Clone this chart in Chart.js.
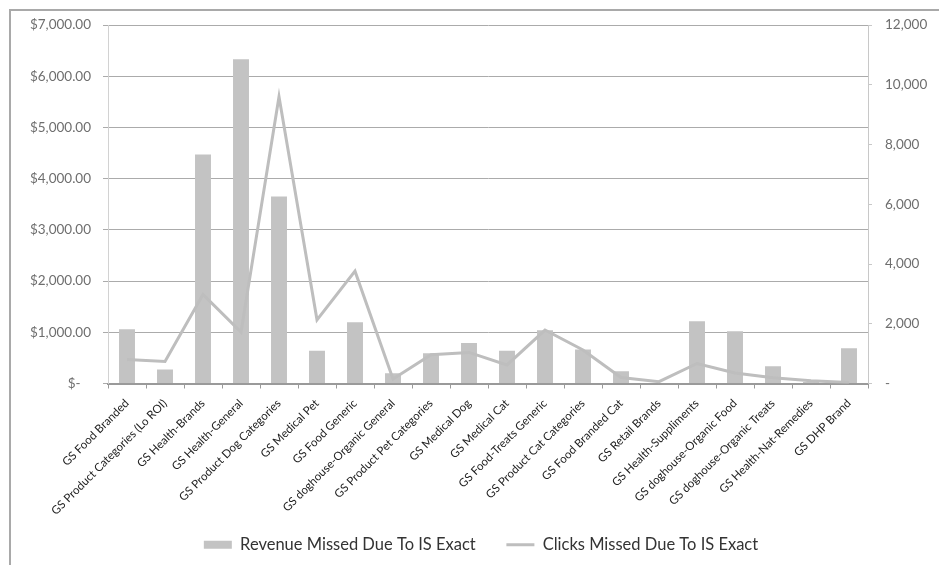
<!DOCTYPE html>
<html>
<head>
<meta charset="utf-8">
<script src="https://cdn.jsdelivr.net/npm/chart.js@4.4.0/dist/chart.umd.min.js"></script>
<style>
    html, body { margin: 0; padding: 0; background: #fff; }
    #wrap { position: relative; width: 939px; height: 565px; overflow: hidden; }
    #frame { position: absolute; left: 9px; top: 9px; width: 1200px; height: 1200px; border: 2px solid #a9a9a9; }
    #c { position: absolute; left: 0; top: 0; }
</style>
</head>
<body>
<div id="wrap">
    <div id="frame"></div>
    <canvas id="c" width="939" height="565"></canvas>
</div>
<script>
// ── Données ───────────────────────────────────────────────────────────────────
const CATEGORIES = [
    "GS Food Branded",
    "GS Product Categories (Lo ROI)",
    "GS Health-Brands",
    "GS Health-General",
    "GS Product Dog Categories",
    "GS Medical Pet",
    "GS Food Generic",
    "GS doghouse-Organic General",
    "GS Product Pet Categories",
    "GS Medical Dog",
    "GS Medical Cat",
    "GS Food-Treats Generic",
    "GS Product Cat Categories",
    "GS Food Branded Cat",
    "GS Retail Brands",
    "GS Health-Suppliments",
    "GS doghouse-Organic Food",
    "GS doghouse-Organic Treats",
    "GS Health-Nat-Remedies",
    "GS DHP Brand",
];

const REVENUE = [1060, 275, 4470, 6330, 3650, 640, 1195, 200, 590, 790, 640, 1040, 665, 240, 10, 1215, 1020, 335, 30, 690];
const CLICKS  = [800, 740, 2980, 1720, 9600, 2130, 3760, 150, 960, 1040, 620, 1790, 1120, 200, 60, 670, 350, 190, 90, 30];

const SERIES_NAMES = ["Revenue Missed Due To IS Exact", "Clicks Missed Due To IS Exact"];

const LEFT_MAX   = 7000;
const LEFT_STEP  = 1000;
const RIGHT_MAX  = 12000;
const RIGHT_STEP = 2000;

// ── Style ─────────────────────────────────────────────────────────────────────
const BAR_COLOR  = "#c3c3c3";
const LINE_COLOR = "#bebebe";
const GRID       = "#ababab";
const FONT       = "Lato, 'Open Sans', sans-serif";

Chart.defaults.font.family = FONT;

const fmtMoney  = v => v === 0 ? "$-   " : "$" + v.toLocaleString("en-US", { minimumFractionDigits: 2, maximumFractionDigits: 2 });
const fmtClicks = v => v === 0 ? "-" : v.toLocaleString("en-US");

new Chart(document.getElementById("c"), {
    type: "bar",
    data: {
        labels: CATEGORIES,
        datasets: [
            {
                type: "bar",
                label: SERIES_NAMES[0],
                data: REVENUE,
                yAxisID: "y",
                backgroundColor: BAR_COLOR,
                borderWidth: 0,
                barPercentage: 0.42,
                categoryPercentage: 1,
                order: 2,
            },
            {
                type: "line",
                label: SERIES_NAMES[1],
                data: CLICKS,
                yAxisID: "y2",
                borderColor: LINE_COLOR,
                backgroundColor: LINE_COLOR,
                borderWidth: 3,
                pointRadius: 0,
                tension: 0,
                fill: false,
                order: 1,
            },
        ],
    },
    options: {
        responsive: false,
        animation: false,
        layout: { padding: { left: 23, right: 0, top: 25, bottom: 2 } },
        plugins: {
            tooltip: { enabled: false },
            legend: {
                position: "bottom",
                labels: {
                    color: "#333",
                    font: { size: 16.5 },
                    padding: 10,
                    usePointStyle: true,
                    pointStyleWidth: 28,
                    boxHeight: 8,
                    sort: (a, b) => a.datasetIndex - b.datasetIndex,
                    generateLabels: chart => chart.data.datasets.map((ds, i) => ({
                        // espace large après la 1re entrée, comme dans l'original
                        text: i === 0 ? ds.label + "\u2003\u2002" : ds.label,
                        fillStyle: ds.type === "line" ? "transparent" : BAR_COLOR,
                        strokeStyle: ds.type === "line" ? LINE_COLOR : BAR_COLOR,
                        lineWidth: ds.type === "line" ? 3 : 0,
                        pointStyle: ds.type === "line" ? "line" : "rect",
                        fontColor: "#333",
                        hidden: false,
                        datasetIndex: i,
                    })),
                },
            },
        },
        scales: {
            x: {
                grid: { display: true, drawOnChartArea: false, drawTicks: true, tickLength: 5, color: "#9a9a9a", offset: true },
                border: { display: true, color: "#9a9a9a", width: 2 },
                ticks: {
                    autoSkip: false,
                    minRotation: 45,
                    maxRotation: 45,
                    padding: 8,
                    color: "#222",
                    font: { size: 11.5 },
                },
                afterFit: s => { s.height = 143; },
            },
            y: {
                position: "left",
                min: 0,
                max: LEFT_MAX,
                ticks: { stepSize: LEFT_STEP, callback: fmtMoney, color: "#6e6e6e", font: { size: 13.5 }, padding: 12 },
                grid: { color: GRID, lineWidth: 1, tickLength: 5 },
                border: { display: true, color: "#d2d2d2" },
                afterFit: s => { s.width = 85; },
            },
            y2: {
                position: "right",
                min: 0,
                max: RIGHT_MAX,
                ticks: { stepSize: RIGHT_STEP, callback: fmtClicks, color: "#6e6e6e", font: { size: 13.5 }, padding: 13 },
                grid: { drawOnChartArea: false, color: "#c8c8c8", tickLength: 4 },
                border: { display: true, color: "#c8c8c8" },
                afterFit: s => { s.width = 71; },
            },
        },
    },
});
</script>
</body>
</html>
